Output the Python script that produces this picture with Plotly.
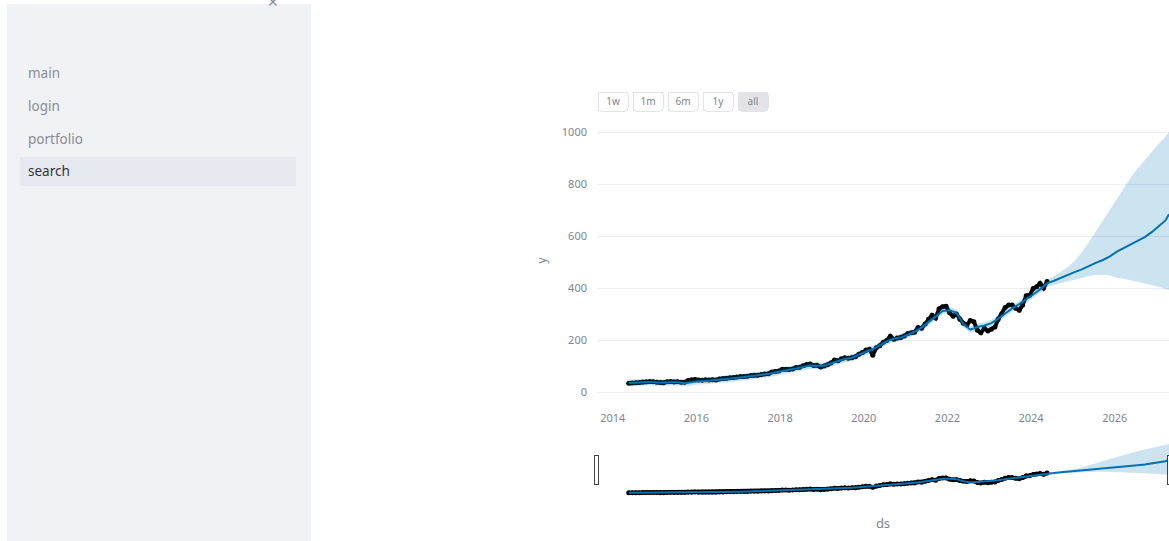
import pandas as pd
import plotly.graph_objects as go

# ---------------- data ----------------
actual_start = "2014-05-01"
actual_y = [
    34, 35, 36, 37, 39, 40, 41, 40,
    38, 37, 36, 40, 41, 39, 40, 38, 38, 44, 47, 48,
    46, 45, 47, 46, 47, 46, 50, 52, 53, 55, 56, 58,
    60, 60, 61, 64, 65, 65, 68, 69, 70, 77, 79, 81,
    88, 88, 87, 89, 94, 95, 101, 106, 108, 102, 103, 96,
    100, 105, 112, 123, 120, 128, 132, 130, 132, 136, 145, 152,
    162, 165, 142, 170, 178, 192, 198, 215, 203, 208, 210, 216,
    225, 228, 230, 248, 245, 262, 280, 295, 285, 320, 328, 330,
    305, 292, 300, 280, 265, 258, 275, 270, 238, 228, 245, 235,
    242, 250, 280, 300, 325, 335, 335, 322, 315, 335, 370, 372,
    398, 405, 418, 400, 425,
]

fc_start = "2014-05-01"
fc_last_date = "2027-04-20"
fc_yhat = [
    35, 36, 38, 39,
    37, 36, 38, 38, 34, 38,
    42, 43, 45, 47, 50, 53,
    56, 59, 63, 66, 70, 75,
    82, 86, 91, 97, 102, 101,
    101, 110, 120, 127, 132, 142,
    155, 165, 180, 195, 205, 210,
    220, 232, 248, 268, 290, 312,
    315, 305, 262, 240, 250, 256,
    265, 282, 302, 322, 338, 355,
    375, 395, 418, 428, 440, 452,
    462, 472, 485, 497, 508, 522,
    540, 553, 566, 580, 596, 615,
    638, 660, 684,
]
fc_lower = [
    22, 23, 25, 26,
    24, 23, 25, 25, 21, 25,
    29, 30, 32, 34, 37, 40,
    43, 46, 50, 53, 57, 62,
    69, 73, 78, 84, 89, 88,
    88, 97, 107, 114, 119, 129,
    142, 152, 167, 182, 192, 197,
    207, 219, 235, 255, 277, 299,
    302, 292, 249, 227, 237, 243,
    252, 269, 289, 309, 325, 342,
    362, 382, 404, 412, 420, 426,
    432, 440, 446, 450, 451, 448,
    440, 436, 430, 424, 420, 412,
    405, 398, 393,
]
fc_upper = [
    48, 49, 51, 52,
    50, 49, 51, 51, 47, 51,
    55, 56, 58, 60, 63, 66,
    69, 72, 76, 79, 83, 88,
    95, 99, 104, 110, 115, 114,
    114, 123, 133, 140, 145, 155,
    168, 178, 193, 208, 218, 223,
    233, 245, 261, 281, 303, 325,
    328, 318, 275, 253, 263, 269,
    278, 295, 315, 335, 351, 368,
    388, 408, 432, 445, 462, 482,
    506, 538, 576, 618, 660, 702,
    745, 786, 824, 860, 893, 925,
    955, 982, 1000,
]

y_range = [-69, 1081]

menu_items = ["main", "login", "portfolio", "search"]
active_item = "search"
range_buttons = [
    dict(count=7, label="1w", step="day", stepmode="backward"),
    dict(count=1, label="1m", step="month", stepmode="backward"),
    dict(count=6, label="6m", step="month", stepmode="backward"),
    dict(count=1, label="1y", step="year", stepmode="backward"),
    dict(step="all", label="all"),
]

actual_x = pd.date_range(actual_start, periods=len(actual_y), freq="MS") + pd.Timedelta(days=19)
fc_x = list(pd.date_range(fc_start, periods=len(fc_yhat) - 1, freq="2MS") + pd.Timedelta(days=19))
fc_x.append(pd.Timestamp(fc_last_date))

# ---------------- figure ----------------
W, H = 1169, 541
TOP = 111
BOTTOM = 410
BLUE = "#0072B2"
FILL = "rgba(0, 114, 178, 0.2)"
FONT = "Noto Sans"
TICK = "#808495"

fig = go.Figure()
fig.add_trace(go.Scatter(x=actual_x, y=actual_y, mode="lines+markers", name="Actual",
                         line=dict(color="black", width=4), marker=dict(color="black", size=5)))
fig.add_trace(go.Scatter(x=fc_x, y=fc_lower, mode="lines", name="Lower",
                         line=dict(width=0, color=BLUE), hoverinfo="skip"))
fig.add_trace(go.Scatter(x=fc_x, y=fc_yhat, mode="lines", name="Predicted",
                         line=dict(width=2, color=BLUE), fill="tonexty", fillcolor=FILL))
fig.add_trace(go.Scatter(x=fc_x, y=fc_upper, mode="lines", name="Upper",
                         line=dict(width=0, color=BLUE), fill="tonexty", fillcolor=FILL,
                         hoverinfo="skip"))

shapes = [
    dict(type="rect", xref="paper", yref="paper", x0=7 / W, x1=311 / W,
         ysizemode="pixel", yanchor=1, y0=TOP - 545, y1=TOP - 4,
         fillcolor="#f0f2f6", line=dict(width=0), layer="below"),
    dict(type="rect", xref="paper", yref="paper", x0=20 / W, x1=296 / W,
         ysizemode="pixel", yanchor=1, y0=TOP - 186, y1=TOP - 157,
         fillcolor="#e6e9ef", line=dict(width=0), layer="below"),
]

annotations = []
menu_y = [73, 106, 139, 171]
for item, py in zip(menu_items, menu_y):
    active = item == active_item
    annotations.append(dict(
        text=item, xref="paper", yref="paper", x=26 / W, y=1, xanchor="left",
        yanchor="middle", yshift=TOP - py, showarrow=False,
        font=dict(family=FONT, size=13.5, color="#31333f" if active else "#8b8d95"),
    ))
annotations.append(dict(
    text="✕", xref="paper", yref="paper", x=273 / W, y=1, xanchor="center",
    yanchor="middle", yshift=TOP - 2, showarrow=False,
    font=dict(family="DejaVu Sans", size=14, color="#8b8d95"),
))

fig.update_layout(
    width=W, height=H,
    margin=dict(l=0, r=0, t=TOP, b=H - BOTTOM, pad=0, autoexpand=False),
    paper_bgcolor="white", plot_bgcolor="white",
    showlegend=False,
    font=dict(family=FONT, size=11, color=TICK),
    shapes=shapes,
    annotations=annotations,
    xaxis=dict(
        domain=[597 / W, 1],
        autorange=True,
        showgrid=False, zeroline=False, showline=False,
        tickfont=dict(size=11, color=TICK),
        title=dict(text="ds", font=dict(size=13, color=TICK)),
        rangeselector=dict(
            buttons=range_buttons,
            x=597 / W, xanchor="left", y=1.005, yanchor="bottom",
            bgcolor="white", activecolor="#e4e4e8",
            bordercolor="#e1e4ea", borderwidth=1,
            font=dict(size=10, color=TICK),
        ),
        rangeslider=dict(visible=True, thickness=0.194, bgcolor="white"),
        type="date",
    ),
    yaxis=dict(
        range=y_range,
        gridcolor="#e9ecf1", zeroline=False, showline=False,
        ticklabelstandoff=9,
        tickfont=dict(size=11, color=TICK),
        title=dict(text="y", font=dict(size=12, color=TICK), standoff=12),
    ),
)

fig.write_html("out.html")
